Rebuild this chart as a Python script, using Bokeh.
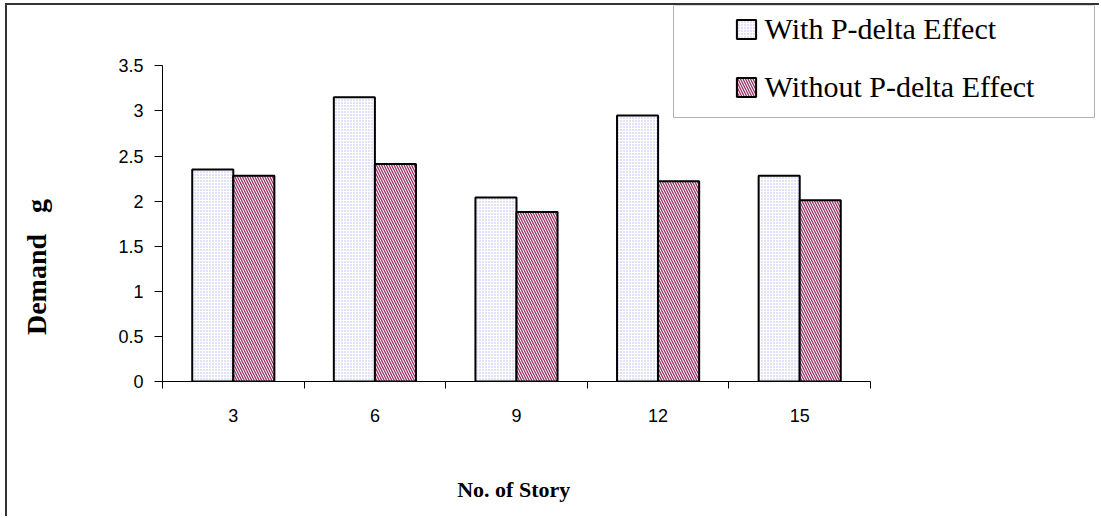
from bokeh.plotting import figure
from bokeh.models import (ColumnDataSource, Range1d, LinearAxis, FixedTicker,
                          NumeralTickFormatter, Legend, LegendItem, BoxAnnotation)
from bokeh.transform import dodge
from bokeh.embed import file_html
from bokeh.resources import INLINE

# Data
stories = ["3", "6", "9", "12", "15"]
with_pdelta = [2.35, 3.15, 2.04, 2.95, 2.28]
without_pdelta = [2.28, 2.41, 1.88, 2.22, 2.01]
y_ticks = [0, 0.5, 1, 1.5, 2, 2.5, 3, 3.5]
y_max = 3.5
series_names = ["With P-delta Effect", "Without P-delta Effect"]

# each story occupies one unit-wide slot on the x scale
slots = [i + 0.5 for i in range(len(stories))]
bounds_x = list(range(len(stories) + 1))
src = ColumnDataSource(dict(slot=slots, story=stories,
                            with_pd=with_pdelta, without_pd=without_pdelta))

SANS = "Liberation Sans"
SERIF = "Liberation Serif"
NBSP = "\u00a0"

# page layout (px): the chart box is framed on its left and top edges
W, H = 1094, 513
LEFT, BOTTOM = 155, 137
SLOT_PX, AXIS_PX = 141.6, 315.7
frame_w, frame_h = W - LEFT, H - BOTTOM

p = figure(width=W, height=H,
           x_range=Range1d(0, frame_w / SLOT_PX),
           y_range=Range1d(0, y_max * frame_h / AXIS_PX),
           x_axis_location=None, y_axis_location=None,
           output_backend="svg", toolbar_location=None,
           min_border_left=LEFT, min_border_right=0,
           min_border_top=0, min_border_bottom=BOTTOM)
p.styles = {"margin-left": "5px", "margin-top": "3px",
            "border-left": "2px solid #333333", "border-top": "2px solid #333333"}
p.xgrid.visible = False
p.ygrid.visible = False
p.outline_line_color = None
p.background_fill_color = "white"
p.border_fill_color = "white"

bar_w = 0.29
r_with = p.vbar(x=dodge("slot", -bar_w / 2), top="with_pd", width=bar_w,
                source=src, fill_color="white", line_color="black", line_width=2,
                hatch_pattern="dot", hatch_color="#b4b4f0", hatch_scale=3, hatch_weight=1)
r_without = p.vbar(x=dodge("slot", bar_w / 2), top="without_pd", width=bar_w,
                   source=src, fill_color="white", line_color="black", line_width=2,
                   hatch_pattern="left_diagonal_line", hatch_color="#993366",
                   hatch_scale=5, hatch_weight=1.3)

# y axis
yax = LinearAxis(ticker=FixedTicker(ticks=y_ticks), bounds=(0, y_max),
                 formatter=NumeralTickFormatter(format="0.[0]"),
                 axis_label="Demand" + NBSP * 3 + "g" + NBSP * 21)
yax.major_label_text_font = SANS
yax.major_label_text_font_size = "18px"
yax.major_label_text_color = "black"
yax.major_tick_out = 8
yax.major_tick_in = 0
yax.minor_tick_line_color = None
yax.major_label_standoff = 11
yax.axis_line_color = "black"
yax.major_tick_line_color = "black"
yax.axis_label_text_font = SERIF
yax.axis_label_text_font_style = "bold"
yax.axis_label_text_font_size = "28px"
yax.axis_label_text_color = "black"
yax.axis_label_standoff = 63
p.add_layout(yax, "left")

# x axis: story labels at slot centres, ticks on slot boundaries
xax = LinearAxis(ticker=FixedTicker(ticks=slots, minor_ticks=bounds_x),
                 bounds=(0, len(stories)),
                 major_label_overrides={s: name for s, name in zip(slots, stories)},
                 axis_label="No. of Story" + NBSP * 43)
xax.axis_line_color = "black"
xax.major_tick_line_color = None
xax.major_tick_out = 0
xax.major_tick_in = 0
xax.minor_tick_line_color = "black"
xax.minor_tick_out = 7
xax.minor_tick_in = 0
xax.major_label_text_font = SANS
xax.major_label_text_font_size = "18px"
xax.major_label_text_color = "black"
xax.major_label_standoff = 20
xax.axis_label_text_font = SERIF
xax.axis_label_text_font_style = "bold"
xax.axis_label_text_font_size = "22px"
xax.axis_label_text_color = "black"
xax.axis_label_standoff = 52
p.add_layout(xax, "below")

# legend frame
p.add_layout(BoxAnnotation(left=664, right=1085, top=-2, bottom=110,
                           left_units="canvas", right_units="canvas",
                           top_units="canvas", bottom_units="canvas",
                           fill_color="white", line_color="black", line_width=1))

legend = Legend(items=[LegendItem(label=series_names[0], renderers=[r_with]),
                       LegendItem(label=series_names[1], renderers=[r_without])],
                location=(571.6, 277),
                padding=0, margin=0, spacing=24,
                glyph_width=24, glyph_height=24, label_standoff=7, label_height=24,
                border_line_color=None, background_fill_alpha=0,
                label_text_font=SERIF, label_text_font_size="30px", label_text_color="black")
p.add_layout(legend, "center")

open("out.html", "w").write(file_html(p, INLINE))
